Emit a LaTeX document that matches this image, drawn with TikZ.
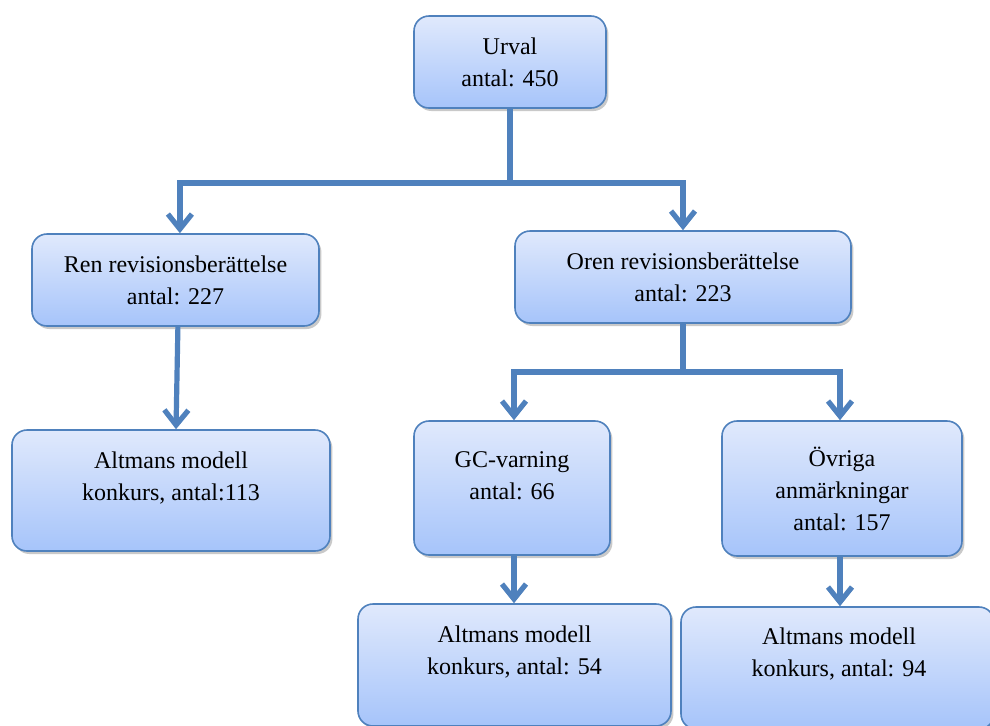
\documentclass[tikz,border=0pt]{standalone}
\usepackage{fontspec}
\setmainfont{Liberation Serif}
\usetikzlibrary{arrows.meta,shadows,calc}
\definecolor{bord}{RGB}{79,129,189}
\definecolor{topc}{RGB}{224,233,252}
\definecolor{botc}{RGB}{166,196,250}
\tikzset{
  box/.style={draw=bord, line width=0.8pt, rounded corners=7.5pt,
    top color=topc, bottom color=botc,
    drop shadow={shadow xshift=1.2pt, shadow yshift=-1.5pt, opacity=0.35, fill=black!60},
    inner sep=0pt, align=center, font=\fontsize{12pt}{16pt}\selectfont},
  txt/.style={align=center, inner sep=0pt, font=\fontsize{12pt}{16pt}\selectfont},
  conn/.style={draw=bord, line width=2.6pt},
  arr/.style={conn, -{Straight Barb[length=7.5pt,width=12pt]}},
}
\begin{document}
\begin{tikzpicture}[x=0.5pt,y=-0.5pt]
\clip (0,0) rectangle (990,725);
\fill[white] (0,0) rectangle (990,725);
\node[box, minimum width=96pt, minimum height=46pt] (urval) at (510,62) {Urval\\antal: 450};
\node[box, minimum width=143.5pt, minimum height=46pt] (ren) at (175.5,280) {Ren revisionsberättelse\\antal: 227};
\node[box, minimum width=168pt, minimum height=46pt] (oren) at (683,277) {Oren revisionsberättelse\\antal: 223};
\node[box, minimum width=159pt, minimum height=60.5pt] (alt1) at (171,490.5) {};
\node[txt] (alt1t) at (171,478) {Altmans modell\\konkurs, antal:113};
\node[box, minimum width=98pt, minimum height=67pt] (gc) at (512,488) {};
\node[txt] (gct) at (512,476) {GC-varning\\antal: 66};
\node[box, minimum width=120pt, minimum height=67.5pt] (ovr) at (842,488.5) {Övriga\\anmärkningar\\antal: 157};
\node[box, minimum width=156.5pt, minimum height=61pt] (alt2) at (514.5,665) {};
\node[txt] (alt2t) at (514.5,652) {Altmans modell\\konkurs, antal: 54};
\node[box, minimum width=156.5pt, minimum height=61pt] (alt3) at (837.5,668) {};
\node[txt] (alt3t) at (839,654) {Altmans modell\\konkurs, antal: 94};

\coordinate (j1) at (510,183);
\coordinate (j2) at (683,372);
\draw[conn] (urval.south) -- (j1);
\draw[arr] (j1) -| ([xshift=2.2pt]ren.north);
\draw[arr] (j1) -| (oren.north);
\draw[arr] ([xshift=1.2pt]ren.south) -- ([xshift=2.5pt]alt1.north);
\draw[conn] (oren.south) -- (j2);
\draw[arr] (j2) -| ([xshift=1pt]gc.north);
\draw[arr] (j2) -| ([xshift=-1pt]ovr.north);
\draw[arr] ([xshift=1pt]gc.south) -- ([xshift=1pt]gc.south |- alt2.north);
\draw[arr] ([xshift=-1pt]ovr.south) -- ([xshift=-1pt]ovr.south |- alt3.north);
\end{tikzpicture}
\end{document}
